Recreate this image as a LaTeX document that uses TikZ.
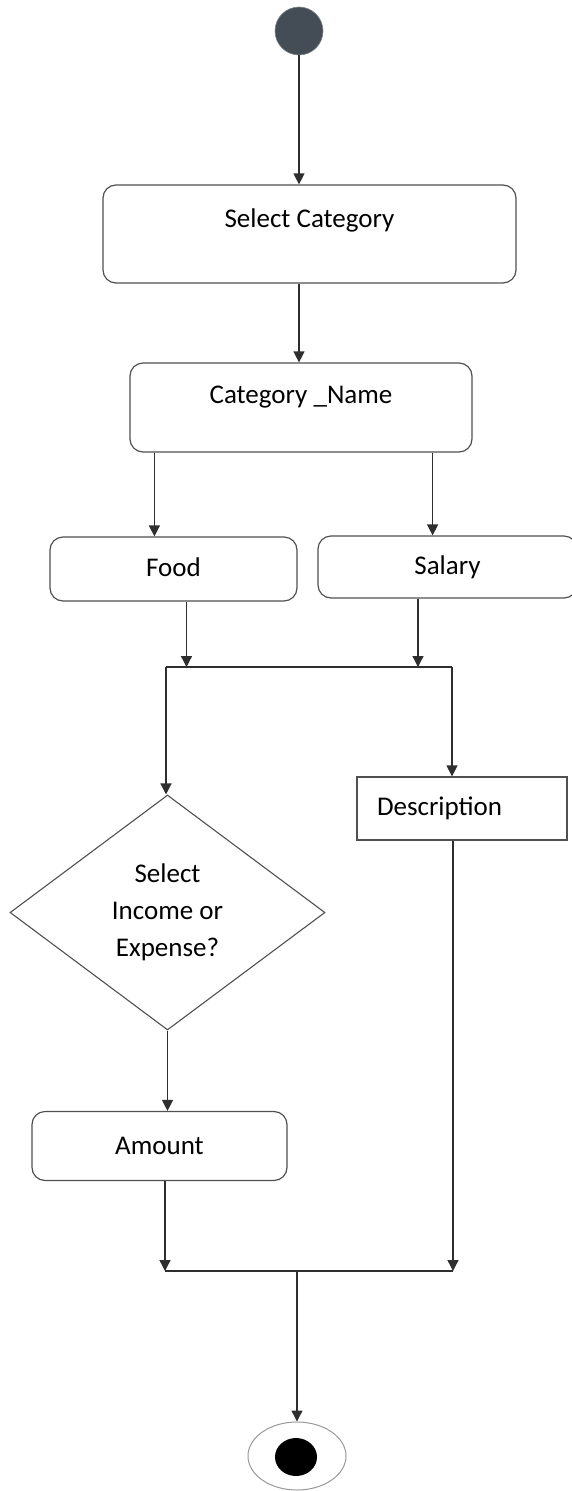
\documentclass[tikz,border=0pt]{standalone}
\usepackage{fontspec}
\setmainfont{Carlito}
\usepackage{tikz}
\usetikzlibrary{calc,arrows.meta,shapes.geometric}
\definecolor{edge}{HTML}{2E2E2E}
\definecolor{frame}{HTML}{505050}
\definecolor{slate}{HTML}{444D56}
\newcommand{\actfont}{\fontsize{27}{37}\selectfont}
\tikzset{
  flow/.style={draw=edge, line width=1.3pt, -{Triangle[length=11pt,width=11pt]}},
  barline/.style={draw=edge, line width=1.3pt},
  act/.style={draw=frame, line width=1.2pt, rounded corners=13pt, font=\actfont, inner sep=0pt},
  plainact/.style={draw=frame, line width=1.2pt, font=\actfont, inner sep=0pt},
  choice/.style={draw=frame, line width=1.1pt, diamond, font=\actfont, align=center, inner sep=0pt},
  initial/.style={circle, fill=slate, draw=slate!70, line width=0.6pt, minimum size=48pt, inner sep=0pt},
  finalring/.style={ellipse, draw=gray!80, line width=1pt, minimum width=98pt, minimum height=68pt, inner sep=0pt},
  finalcore/.style={ellipse, fill=black, minimum width=42pt, minimum height=38pt, inner sep=0pt}
}

\begin{document}
\begin{tikzpicture}[x=1pt, y=-1pt]
  \useasboundingbox (0,0) rectangle (572,1491);

  \node[initial] (init) at (299,31) {};
  \node[act, minimum width=413pt, minimum height=98pt, text height=19pt, text depth=33pt] (selcat) at (309.5,234) {Select Category};
  \node[act, minimum width=342pt, minimum height=89pt, text height=19pt, text depth=28pt] (catname) at (301,407.5) {Category \_Name};
  \node[act, minimum width=247pt, minimum height=64pt, text height=19pt, text depth=5pt] (food) at (173.5,569) {Food};
  \node[act, minimum width=259pt, minimum height=62pt] (salary) at (447.5,567) {Salary};
  \node[choice, minimum width=315pt, minimum height=235pt] (dec) at (167.5,912.5) {Select\\Income or\\Expense?};
  \node[plainact, minimum width=210pt, minimum height=63pt, text width=170pt, inner xsep=20pt, align=left] (desc) at (462,808.5) {Description};
  \node[act, minimum width=255pt, minimum height=69pt] (amt) at (159.5,1146) {Amount};
  \node[finalring] (final) at (297,1456) {};
  \node[finalcore] (finaldot) at (296,1457) {};

  \coordinate (forkL) at (166,667);
  \coordinate (forkR) at (452,667);
  \coordinate (joinL) at (165,1271);
  \coordinate (joinR) at (453,1271);
  \coordinate (joinM) at (297,1271);

  \draw[flow] (init) -- (init |- selcat.north);
  \draw[flow] (init |- selcat.south) -- (init |- catname.north);
  \draw[flow] ([xshift=25pt]catname.south west) -- ([xshift=25pt]catname.south west |- food.north);
  \draw[flow] ([xshift=-40pt]catname.south east) -- ([xshift=-40pt]catname.south east |- salary.north);
  \draw[flow] ([xshift=13pt]food.south) -- ([xshift=13pt]food.south |- forkL);
  \draw[flow] ([xshift=-29.5pt]salary.south) -- ([xshift=-29.5pt]salary.south |- forkR);

  \draw[barline] (forkL) -- (forkR);
  \draw[flow] (forkL) -- (forkL |- dec.north);
  \draw[flow] (forkR) -- (forkR |- desc.north);
  \draw[flow] (dec.south) -- (dec.south |- amt.north);

  \draw[flow] (amt.south -| joinL) -- (joinL);
  \draw[flow] (desc.south -| joinR) -- (joinR);
  \draw[barline] (joinL) -- (joinR);
  \draw[flow] (joinM) -- (final.north);
\end{tikzpicture}
\end{document}
